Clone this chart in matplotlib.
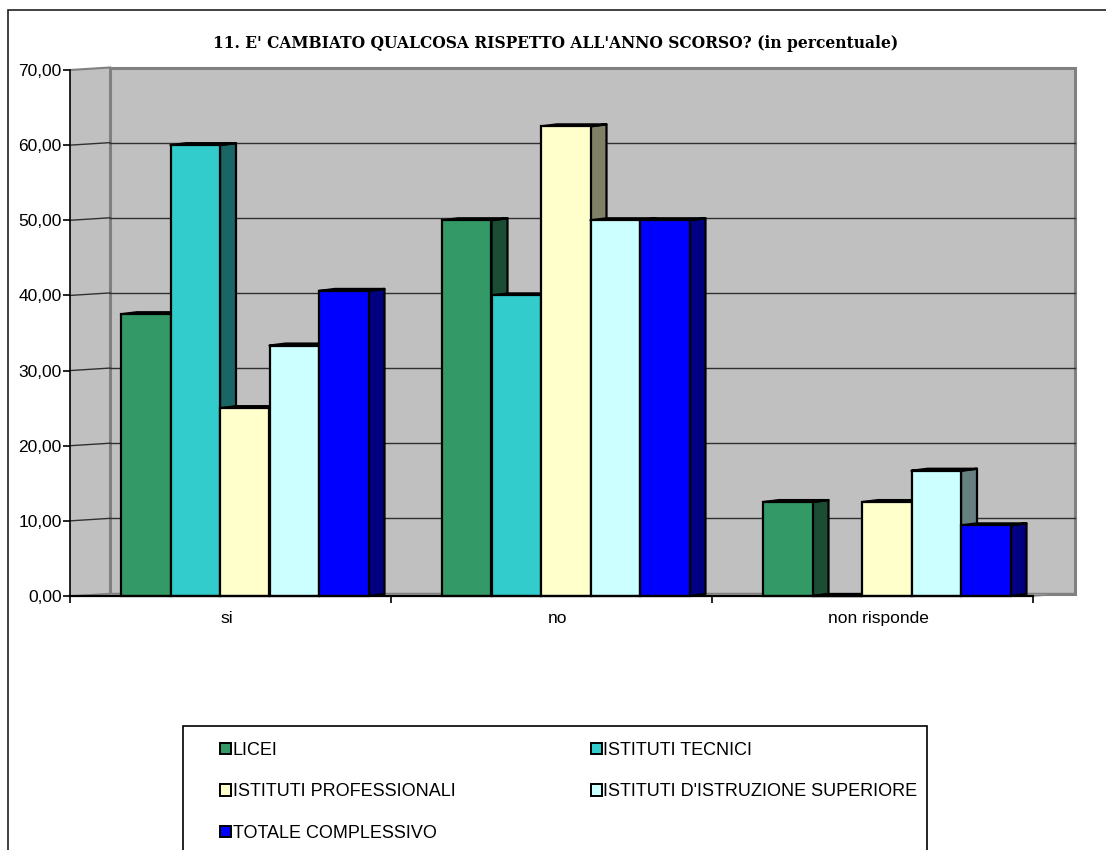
import matplotlib
matplotlib.use("Agg")
import matplotlib.pyplot as plt
from matplotlib.patches import Polygon, Rectangle, Patch
import numpy as np

categories = ["si", "no", "non risponde"]
series_names = ["LICEI", "ISTITUTI TECNICI", "ISTITUTI PROFESSIONALI",
                "ISTITUTI D'ISTRUZIONE SUPERIORE", "TOTALE COMPLESSIVO"]
licei = [37.5, 50.0, 12.5]
tecnici = [60.0, 40.0, 0.0]
professionali = [25.0, 62.5, 12.5]
superiore = [33.33, 50.0, 16.67]
totale = [40.6, 50.0, 9.4]
yticks = [0, 10, 20, 30, 40, 50, 60, 70]
ytick_labels = ["0,00", "10,00", "20,00", "30,00", "40,00", "50,00", "60,00", "70,00"]
title = "11. E' CAMBIATO QUALCOSA RISPETTO ALL'ANNO SCORSO? (in percentuale)"

series = [licei, tecnici, professionali, superiore, totale]
front_colors = ["#339966", "#33CCCC", "#FFFFCC", "#CCFFFF", "#0000FF"]
side_colors = ["#1A4D33", "#1A6666", "#808066", "#668080", "#000080"]

W, H = 1106, 850
fig = plt.figure(figsize=(W / 100, H / 100), dpi=100)
fig.patch.set_facecolor("white")

# outer chart frame
fig.patches.append(Rectangle((8 / W, -0.1), 1.2, (H - 10) / H + 0.1, transform=fig.transFigure,
                             fill=False, edgecolor="#202020", linewidth=1.2, clip_on=False))

x0_px, x1_px = 70, 1082
y0_px, y1_px = 596, 70
unit = 321.0
ax = fig.add_axes([x0_px / W, (H - y0_px) / H, (x1_px - x0_px) / W, (y0_px - y1_px) / H])
ax.set_xlim(0, (x1_px - x0_px) / unit)
ax.set_ylim(0, 70)
ax.patch.set_visible(False)

dx_wall = 40 / unit
dy_wall = 2.5 * 70 / (y0_px - y1_px)
x_back_right = (1075 - x0_px) / unit
x_front_right = 3.0

# left side wall
ax.add_patch(Polygon([(0, 0), (0, 70), (dx_wall, 70 + dy_wall), (dx_wall, dy_wall)],
                     closed=True, facecolor="#C0C0C0", edgecolor="none", zorder=0, clip_on=False))
# back wall
ax.add_patch(Rectangle((dx_wall, dy_wall), x_back_right - dx_wall, 70, facecolor="#C0C0C0",
                       edgecolor="#808080", linewidth=2.2, zorder=0.5, clip_on=False))
# floor
ax.add_patch(Polygon([(0, 0), (dx_wall, dy_wall), (x_back_right, dy_wall), (x_front_right, 0)],
                     closed=True, facecolor="#A0A0A0", edgecolor="#808080", linewidth=1,
                     zorder=0.6, clip_on=False))
# gridlines on back wall and side wall
for v in yticks[1:-1]:
    ax.plot([dx_wall, x_back_right], [v + dy_wall, v + dy_wall], color="#303030", lw=1.0,
            zorder=0.7, clip_on=False)
    ax.plot([0, dx_wall], [v, v + dy_wall], color="#303030", lw=1.0, zorder=0.7, clip_on=False)
ax.plot([0, dx_wall], [70, 70 + dy_wall], color="#808080", lw=1.5, zorder=0.7, clip_on=False)

# bars
bw = 49.5 / unit
start = (121 - x0_px) / unit
depth = 16 / unit
dy_bar = 2 * 70 / (y0_px - y1_px)
z = 2
for i in range(len(categories)):
    for j, vals in enumerate(series):
        v = vals[i]
        left = i + start + j * bw
        right = left + bw
        ax.add_patch(Polygon([(right, 0), (right, v), (right + depth, v + dy_bar), (right + depth, dy_bar)],
                             closed=True, facecolor=side_colors[j], edgecolor="black", linewidth=1.6,
                             joinstyle="round", zorder=z, clip_on=False))
        ax.add_patch(Polygon([(left, v), (right, v), (right + depth, v + dy_bar), (left + depth, v + dy_bar)],
                             closed=True, facecolor=front_colors[j], edgecolor="black", linewidth=1.6,
                             joinstyle="round", zorder=z, clip_on=False))
        ax.bar(left, v, width=bw, align="edge", color=front_colors[j], edgecolor="black",
               linewidth=1.6, zorder=z + 0.5, clip_on=False)
        z += 1

# spines / ticks
for s in ["top", "right"]:
    ax.spines[s].set_visible(False)
ax.spines["left"].set_linewidth(1.2)
ax.spines["bottom"].set_linewidth(1.6)
ax.spines["bottom"].set_bounds(0, 3)
ax.spines["left"].set_zorder(50)
ax.spines["bottom"].set_zorder(50)
ax.set_yticks(yticks)
ax.set_yticklabels(ytick_labels, fontsize=12.5, family="Liberation Sans")
ax.tick_params(axis="y", direction="out", length=5, width=1.2, pad=1)
ax.set_xticks([0, 1, 2, 3])
ax.set_xticklabels([])
ax.tick_params(axis="x", which="major", direction="out", length=5, width=1.2)
ax.set_xticks([0.49, 1.52, 2.52], minor=True)
ax.set_xticklabels(categories, minor=True, fontsize=12.5, family="Liberation Sans")
ax.tick_params(axis="x", which="minor", length=0, pad=11)

fig.text(556 / W, 1 - 43 / H, title, ha="center", va="center", fontsize=11.2,
         fontweight="bold", family="DejaVu Serif")

# legend
fig.patches.append(Rectangle((183 / W, -0.05), (927 - 183) / W, (H - 726) / H + 0.05,
                             transform=fig.transFigure, fill=False, edgecolor="black",
                             linewidth=1.2, clip_on=False))
handles = [Patch(facecolor=front_colors[j], edgecolor="black", linewidth=1.4) for j in range(5)]
order = [0, 2, 4, 1, 3]
leg = fig.legend([handles[k] for k in order], [series_names[k] for k in order], ncol=2,
                 loc="upper left", bbox_to_anchor=(211 / W, 1 - 733 / H), frameon=False,
                 prop={"family": "Liberation Sans", "size": 13}, handlelength=0.6,
                 handleheight=0.6, handletextpad=0.1, labelspacing=1.35,
                 columnspacing=7.5, borderpad=0)

fig.savefig("out.png", dpi=100)
